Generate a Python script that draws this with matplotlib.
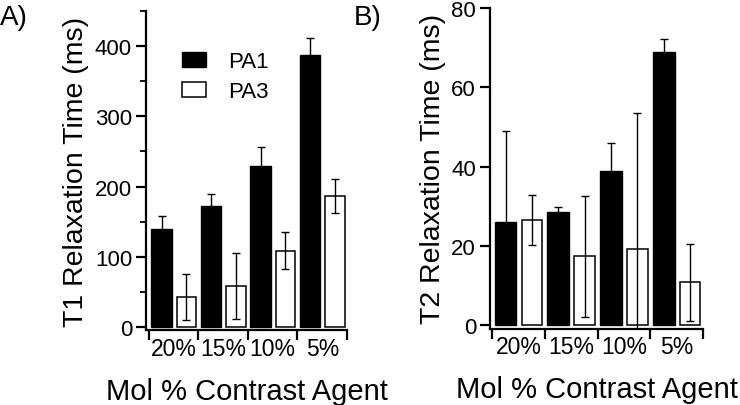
import numpy as np
import matplotlib
matplotlib.use('Agg')
import matplotlib.pyplot as plt
from matplotlib.ticker import FixedLocator, NullFormatter

plt.rcParams['font.family'] = ['Liberation Sans', 'DejaVu Sans']

groups = ['20%', '15%', '10%', '5%']
series = ['PA1', 'PA3']

t1_pa1 = [140, 172, 230, 387]
t1_pa1_err = [18, 17, 27, 24]
t1_pa3 = [43, 59, 109, 187]
t1_pa3_err = [33, 47, 26, 24]

t2_pa1 = [26, 28.6, 39, 69]
t2_pa1_err = [23, 1.3, 7, 3.3]
t2_pa3 = [26.6, 17.3, 19.1, 10.8]
t2_pa3_err = [6.3, 15.2, 34.4, 9.7]

fig = plt.figure(figsize=(7.4, 4.06), dpi=100)
axA = fig.add_axes([146/740, 0.1835, 201/740, 0.7877])
axB = fig.add_axes([490/740, 0.1884, 213/740, 0.7887])


def draw(ax, pa1, pa1_err, pa3, pa3_err, ylabel):
    x = np.arange(len(groups))
    ekw = dict(elinewidth=1.0, capthick=1.0)
    ax.bar(x + 0.255, pa1, 0.41, color='black', edgecolor='black', lw=1.0,
           yerr=pa1_err, capsize=3, error_kw=ekw, ecolor='black', label=series[0])
    ax.bar(x + 0.755, pa3, 0.39, color='white', edgecolor='black', lw=1.1,
           yerr=pa3_err, capsize=3, error_kw=ekw, ecolor='black', label=series[1])
    for s in ['top', 'right']:
        ax.spines[s].set_visible(False)
    for s in ['left', 'bottom']:
        ax.spines[s].set_linewidth(1.6)
    ax.xaxis.set_major_locator(FixedLocator(range(len(groups) + 1)))
    ax.xaxis.set_major_formatter(NullFormatter())
    ax.xaxis.set_minor_locator(FixedLocator(x + 0.5))
    ax.set_xticklabels(groups, minor=True)
    ax.tick_params(axis='x', which='major', direction='out', length=7, width=1.6)
    ax.tick_params(axis='x', which='minor', length=0, pad=5, labelsize=16.5)
    ax.tick_params(axis='y', which='major', direction='out', length=7, width=1.6,
                   pad=3, labelsize=16)
    ax.tick_params(axis='y', which='minor', direction='out', length=4, width=1.3)
    ax.set_ylabel(ylabel, fontsize=20.5, labelpad=4)
    ax.set_xlabel('Mol % Contrast Agent', fontsize=21, labelpad=12)


draw(axA, t1_pa1, t1_pa1_err, t1_pa3, t1_pa3_err, 'T1 Relaxation Time (ms)')
axA.set_xlim(-0.06, 4.0)
axA.set_ylim(-4.3, 450)
axA.yaxis.set_major_locator(FixedLocator([0, 100, 200, 300, 400]))
axA.yaxis.set_minor_locator(FixedLocator([50, 150, 250, 350, 450]))

draw(axB, t2_pa1, t2_pa1_err, t2_pa3, t2_pa3_err, 'T2 Relaxation Time (ms)')
axB.set_xlim(-0.04, 4.0)
axB.set_ylim(-0.9, 80)
axB.yaxis.set_major_locator(FixedLocator([0, 20, 40, 60, 80]))

axA.legend(loc='upper left', bbox_to_anchor=(182/740, 1 - 52/406),
           bbox_transform=fig.transFigure, frameon=False,
           fontsize=16, handlelength=1.08, handleheight=0.68, handletextpad=1.0,
           labelspacing=0.42, borderpad=0, borderaxespad=0)

fig.text(0, 1 - 25/406, 'A)', fontsize=20, va='baseline', ha='left')
fig.text(354/740, 1 - 25/406, 'B)', fontsize=20, va='baseline', ha='left')

fig.savefig('out.png', dpi=100)
